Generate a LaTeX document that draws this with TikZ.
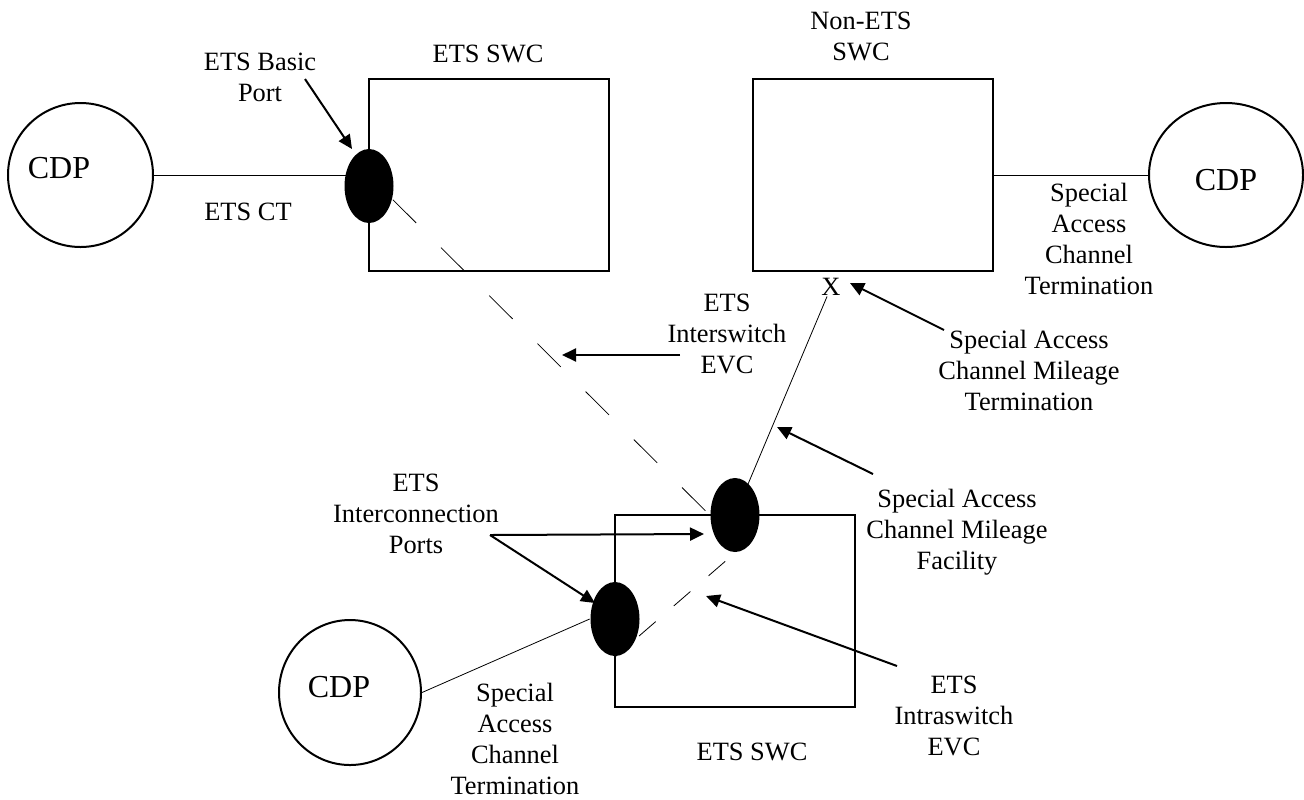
\documentclass[tikz,border=0pt]{standalone}
\usepackage{fontspec}
\setmainfont{Liberation Serif}
\usetikzlibrary{arrows.meta,shapes.geometric}
\pgfdeclarelayer{edgelayer}
\pgfdeclarelayer{nodelayer}
\pgfsetlayers{edgelayer,nodelayer,main}
\tikzset{every picture/.style={line width=0.85pt}}
\tikzset{font=\fontsize{13.2}{15.5}\selectfont}
\tikzstyle{swc}=[draw,line width=1pt,minimum width=120pt,minimum height=96pt,inner sep=0pt]
\tikzstyle{cdp}=[draw,ellipse,line width=1pt,minimum width=72.5pt,minimum height=72pt,inner sep=0pt]
\tikzstyle{port}=[ellipse,fill=black,minimum width=24.5pt,minimum height=37pt,inner sep=0pt]
\tikzstyle{lbl}=[align=center,inner sep=0pt]
\tikzstyle{big}=[inner sep=0pt,font=\fontsize{16}{19}\selectfont]
\tikzstyle{longdash}=[dash pattern=on 16.5pt off 17.5pt,dash phase=16.5pt]
\tikzstyle{shortdash}=[dash pattern=on 11pt off 12pt,dash phase=16.5pt]

\begin{document}
\begin{tikzpicture}[x=0.5pt,y=-0.5pt]
\path[use as bounding box] (0,0) rectangle (1304,799);
% switches
\node[swc] (swcL) at (489,175) {};
\node[swc] (swcN) at (873,175) {};
\node[swc] (swcB) at (735,610.5) {};
% customer points
\node[cdp] (cdpL) at (80.5,175) {};
\node[cdp,minimum width=77pt] (cdpR) at (1226,175) {};
\node[cdp,minimum width=71pt,minimum height=72.5pt] (cdpB) at (350,692.5) {};
\node[big] (cdpLt) at (59,168) {CDP};
\node[big] (cdpRt) at (1226,180) {CDP};
\node[big] (cdpBt) at (339,687) {CDP};
% ports
\node[port] (portL) at (369,186) {};
\node[port] (portU) at (735,515) {};
\node[port] (portB) at (615,619) {};
% labels
\node[lbl] (swcLt) at (488,54) {ETS SWC};
\node[lbl] (swcNt) at (861,36.5) {Non-ETS\\SWC};
\node[lbl] (swcBt) at (752,752) {ETS SWC};
\node[lbl] (basic) at (260,77) {ETS Basic\\Port};
\node[lbl] (ct) at (248,212) {ETS CT};
\node[lbl] (sactR) at (1089,239) {Special\\Access\\Channel\\Termination};
\node[lbl] (xmark) at (831,287) {X};
\node[lbl] (inter) at (727,334) {ETS\\Interswitch\\EVC};
\node[lbl] (sacmt) at (1029,370) {Special Access\\Channel Mileage\\Termination};
\node[lbl] (icp) at (416,513.5) {ETS\\Interconnection\\Ports};
\node[lbl] (sacmf) at (957,532) {Special Access\\Channel Mileage\\Facility};
\node[lbl] (sactB) at (515,739) {Special\\Access\\Channel\\Termination};
\node[lbl] (intra) at (954,716) {ETS\\Intraswitch\\EVC};
% arrow ends
\coordinate (bpTail) at (305,79);
\coordinate (bpTip) at (352,149);
\coordinate (isTail) at (680,355);
\coordinate (isTip) at (562,355);
\coordinate (mtTail) at (944,330);
\coordinate (mtTip) at (850,283);
\coordinate (mfTail) at (873,474);
\coordinate (mfTip) at (777,427);
\coordinate (icTail) at (490,535);
\coordinate (icTipU) at (704,534);
\coordinate (icTipB) at (595,603);
\coordinate (iaTail) at (897,666);
\coordinate (iaTip) at (706,596);
\begin{pgfonlayer}{edgelayer}
\path
(cdpL.east) edge (cdpL.east -| swcL.west)
(swcN.east) edge (cdpR.west)
(cdpB.east) edge (portB.west)
(portU.center) edge (xmark);
\path[longdash] (cdpL.east -| swcL.west) edge (portU.west);
\path[shortdash] (portU.south) edge (portB.south);
\end{pgfonlayer}
\path[->,>={Triangle[length=7pt,width=6.5pt]},line width=1pt]
(bpTail) edge (bpTip)
(isTail) edge (isTip)
(mtTail) edge (mtTip)
(mfTail) edge (mfTip)
(icTail) edge (icTipU)
(icTail) edge (icTipB)
(iaTail) edge (iaTip);
\end{tikzpicture}
\end{document}
